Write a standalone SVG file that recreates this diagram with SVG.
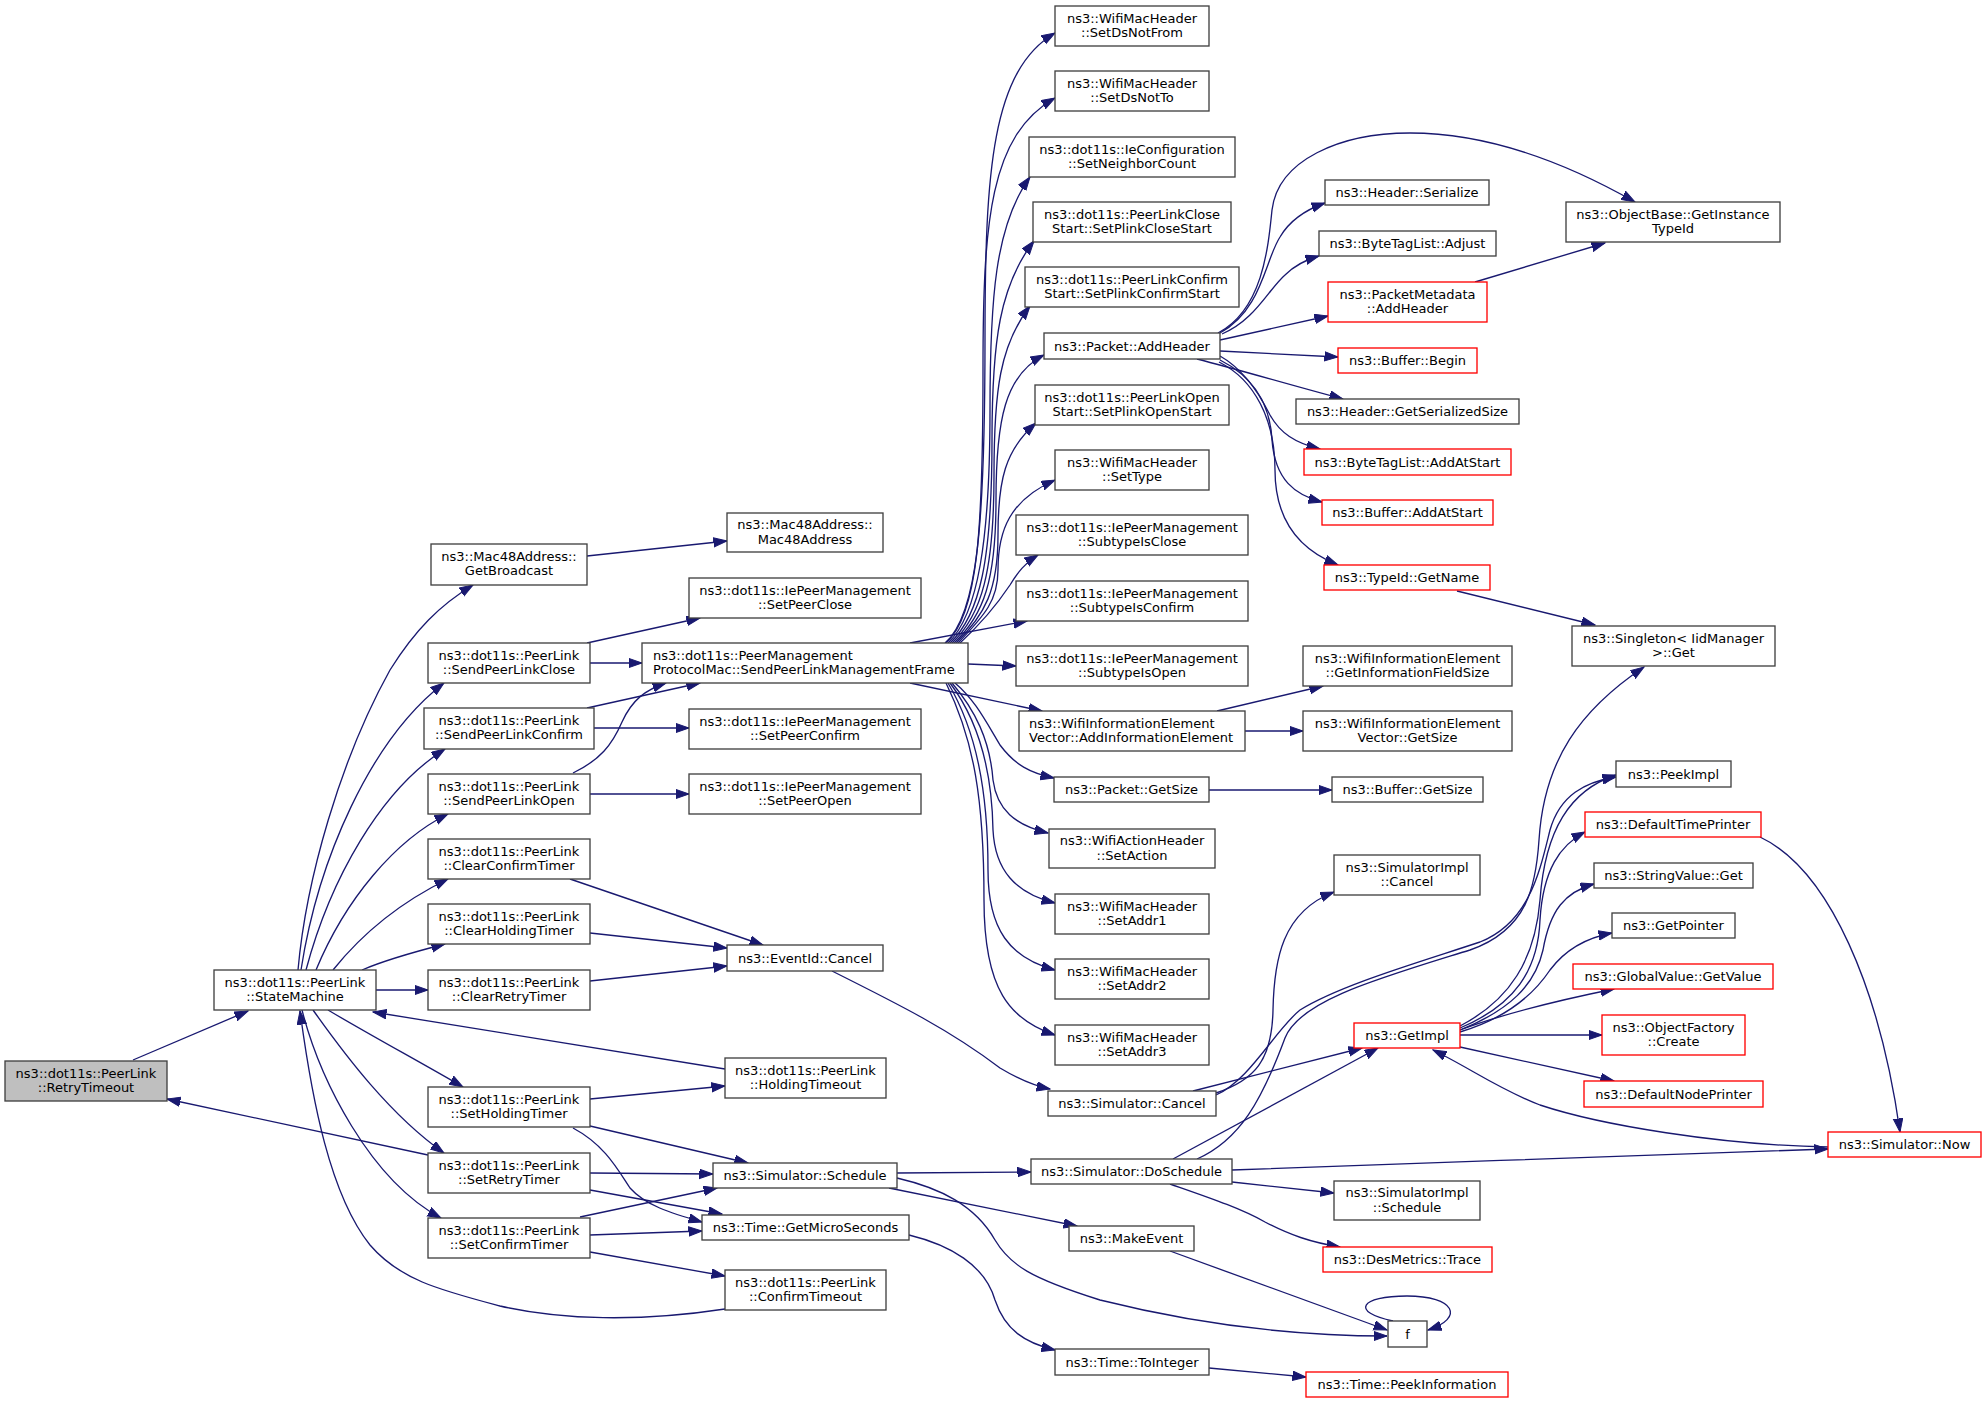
<svg xmlns="http://www.w3.org/2000/svg" width="1987" height="1403" viewBox="0 0 1987 1403">
<style>
.n rect{fill:#ffffff;stroke:#404040;stroke-width:1.33}
.r rect{stroke:#ff0000}
.g rect{fill:#bfbfbf}
text{font-family:"DejaVu Sans","Liberation Sans",sans-serif;font-size:13px;fill:#000;text-anchor:middle}
text.l{text-anchor:start}
.e path{fill:none;stroke:#191970;stroke-width:1.33;marker-end:url(#a)}
</style>
<defs>
<marker id="a" markerUnits="userSpaceOnUse" markerWidth="15" markerHeight="11" refX="13.5" refY="5" orient="auto" viewBox="0 0 15 11">
<path d="M0,0.3 L13.5,5 L0,9.7 z" fill="#191970" stroke="#191970" stroke-width="1"/>
</marker>
</defs>
<rect width="1987" height="1403" fill="#ffffff"/>
<g id="edges" class="e">
<path d="M133,1060 L248,1011"/>
<path d="M298,970 C306,880 340,760 390,670 C415,630 440,605 473,585"/>
<path d="M301,970 C318,860 370,740 444,683"/>
<path d="M306,970 C330,880 380,790 445,749"/>
<path d="M316,970 C345,900 395,840 448,814"/>
<path d="M333,970 C365,930 405,900 448,879"/>
<path d="M362,970 C385,960 410,953 445,944"/>
<path d="M376,990 L428,990"/>
<path d="M328,1010 C370,1035 420,1062 463,1087"/>
<path d="M313,1010 C345,1055 390,1115 444,1153"/>
<path d="M302,1010 C320,1080 370,1180 441,1218"/>
<path d="M725,1069 L373,1012"/>
<path d="M725,1309 C640,1322 560,1320 500,1306 C440,1290 400,1280 370,1245 C330,1195 312,1100 300,1011"/>
<path d="M428,1155 L167,1099"/>
<path d="M587,556 L727,541"/>
<path d="M587,643 L700,618"/>
<path d="M590,663 L642,663"/>
<path d="M587,708 L700,683"/>
<path d="M594,728 L689,728"/>
<path d="M573,773 C600,760 612,745 622,722 C632,700 645,690 666,683"/>
<path d="M590,794 L689,794"/>
<path d="M570,879 L763,945"/>
<path d="M590,933 L727,948"/>
<path d="M590,981 L727,966"/>
<path d="M590,1099 L725,1086"/>
<path d="M590,1126 L748,1163"/>
<path d="M573,1128 C605,1145 618,1170 630,1188 C645,1205 670,1213 702,1222"/>
<path d="M590,1173 L713,1174"/>
<path d="M590,1190 L722,1214"/>
<path d="M580,1217 L717,1188"/>
<path d="M590,1235 L702,1231"/>
<path d="M590,1252 L725,1276"/>
<path d="M945,643 C978,615 985,520 985,338 C985,170 992,70 1055,33"/>
<path d="M946,643 C978,615 983,530 983,370 C983,220 990,135 1055,98"/>
<path d="M948,643 C978,615 990,540 990,410 C990,300 995,225 1030,177"/>
<path d="M950,643 C980,615 992,560 992,440 C992,340 1000,285 1034,241"/>
<path d="M952,643 C982,615 994,570 994,475 C994,390 1000,345 1030,306"/>
<path d="M954,643 C984,615 996,580 996,500 C996,420 1005,375 1044,355"/>
<path d="M956,643 C985,615 998,590 998,535 C998,480 1005,450 1036,423"/>
<path d="M958,643 C985,615 998,600 998,570 C998,530 1010,500 1055,480"/>
<path d="M960,643 C985,620 1000,600 1010,585 C1018,572 1025,563 1038,555"/>
<path d="M910,643 L1027,621"/>
<path d="M968,664 L1016,666"/>
<path d="M910,683 L1042,711"/>
<path d="M955,683 C975,700 985,720 1000,745 C1015,765 1030,773 1054,778"/>
<path d="M952,683 C975,710 990,740 993,780 C997,810 1015,825 1048,833"/>
<path d="M950,683 C978,720 992,770 993,830 C995,870 1015,893 1055,903"/>
<path d="M948,683 C976,730 988,790 988,870 C988,930 1010,958 1055,970"/>
<path d="M946,683 C974,740 984,800 984,900 C984,990 1010,1020 1055,1035"/>
<path d="M832,971 C900,1005 950,1030 1000,1068 C1020,1080 1035,1086 1050,1089"/>
<path d="M897,1173 L1031,1172"/>
<path d="M889,1188 L1077,1226"/>
<path d="M897,1178 C940,1188 975,1205 995,1240 C1010,1265 1030,1278 1100,1300 C1200,1325 1300,1336 1387,1336"/>
<path d="M909,1235 C950,1245 985,1265 995,1300 C1005,1330 1025,1343 1055,1350"/>
<path d="M1209,1368 L1306,1377"/>
<path d="M1170,1251 L1387,1330"/>
<path d="M1393,1321 C1350,1312 1360,1296 1407,1296 C1455,1296 1465,1318 1428,1330"/>
<path d="M1218,333 C1262,310 1268,250 1272,210 C1278,160 1340,133 1410,133 C1490,133 1570,165 1635,202"/>
<path d="M1220,333 C1262,310 1265,260 1280,237 C1290,220 1305,210 1325,203"/>
<path d="M1222,334 C1255,320 1268,290 1285,275 C1295,265 1305,260 1319,256"/>
<path d="M1220,340 L1328,316"/>
<path d="M1220,351 L1338,357"/>
<path d="M1197,359 C1240,370 1290,385 1343,399"/>
<path d="M1220,356 C1245,370 1260,395 1270,415 C1280,433 1295,443 1320,449"/>
<path d="M1220,360 C1250,375 1270,400 1272,440 C1275,480 1295,495 1322,502"/>
<path d="M1219,362 C1255,380 1275,420 1275,470 C1275,520 1300,550 1338,565"/>
<path d="M1475,282 L1605,243"/>
<path d="M1457,591 L1595,625"/>
<path d="M1217,711 L1323,686"/>
<path d="M1245,731 L1303,731"/>
<path d="M1209,790 L1332,790"/>
<path d="M1216,1093 C1255,1080 1272,1060 1273,1010 C1274,960 1282,912 1334,892"/>
<path d="M1193,1091 L1362,1048"/>
<path d="M1216,1095 C1250,1080 1275,1030 1300,1010 C1340,985 1420,962 1480,942 C1530,922 1540,870 1550,830 C1560,795 1585,782 1616,777"/>
<path d="M1173,1159 L1378,1048"/>
<path d="M1197,1159 C1240,1140 1262,1100 1285,1038 C1300,1000 1380,978 1470,950 C1528,930 1536,885 1539,840 C1544,760 1580,710 1644,667"/>
<path d="M1232,1182 L1334,1193"/>
<path d="M1170,1184 C1210,1198 1240,1208 1265,1222 C1290,1235 1310,1242 1340,1247"/>
<path d="M1232,1170 C1400,1165 1700,1152 1828,1149"/>
<path d="M1828,1147 C1720,1145 1600,1125 1540,1105 C1500,1090 1470,1068 1433,1050"/>
<path d="M1760,837 C1830,870 1880,990 1900,1132"/>
<path d="M1460,1026 C1510,1000 1535,960 1540,900 C1545,830 1570,790 1616,775"/>
<path d="M1460,1028 C1515,1005 1538,970 1540,920 C1543,870 1560,845 1585,832"/>
<path d="M1460,1030 C1510,1010 1535,985 1543,950 C1550,910 1565,892 1594,884"/>
<path d="M1460,1032 C1500,1020 1530,1000 1550,970 C1565,950 1585,938 1612,933"/>
<path d="M1460,1030 C1500,1015 1560,1000 1614,989"/>
<path d="M1460,1035 L1602,1035"/>
<path d="M1460,1047 L1614,1081"/>
</g>
<g id="n1" class="n g"><rect x="5" y="1061" width="162" height="40"/><text x="86" y="1077.5">ns3::dot11s::PeerLink</text><text x="86" y="1092">::RetryTimeout</text></g>
<g id="n2" class="n"><rect x="214" y="970" width="162" height="40"/><text x="295" y="986.5">ns3::dot11s::PeerLink</text><text x="295" y="1001">::StateMachine</text></g>
<g id="n3" class="n"><rect x="431" y="544" width="156" height="41"/><text x="509" y="560.5">ns3::Mac48Address::</text><text x="509" y="575">GetBroadcast</text></g>
<g id="n4" class="n"><rect x="428" y="643" width="162" height="40"/><text x="509" y="659.5">ns3::dot11s::PeerLink</text><text x="509" y="674">::SendPeerLinkClose</text></g>
<g id="n5" class="n"><rect x="424" y="708" width="170" height="41"/><text x="509" y="724.5">ns3::dot11s::PeerLink</text><text x="509" y="739">::SendPeerLinkConfirm</text></g>
<g id="n6" class="n"><rect x="428" y="774" width="162" height="40"/><text x="509" y="790.5">ns3::dot11s::PeerLink</text><text x="509" y="805">::SendPeerLinkOpen</text></g>
<g id="n7" class="n"><rect x="428" y="839" width="162" height="40"/><text x="509" y="855.5">ns3::dot11s::PeerLink</text><text x="509" y="870">::ClearConfirmTimer</text></g>
<g id="n8" class="n"><rect x="428" y="904" width="162" height="40"/><text x="509" y="920.5">ns3::dot11s::PeerLink</text><text x="509" y="935">::ClearHoldingTimer</text></g>
<g id="n9" class="n"><rect x="428" y="970" width="162" height="40"/><text x="509" y="986.5">ns3::dot11s::PeerLink</text><text x="509" y="1001">::ClearRetryTimer</text></g>
<g id="n10" class="n"><rect x="428" y="1087" width="162" height="40"/><text x="509" y="1103.5">ns3::dot11s::PeerLink</text><text x="509" y="1118">::SetHoldingTimer</text></g>
<g id="n11" class="n"><rect x="428" y="1153" width="162" height="40"/><text x="509" y="1169.5">ns3::dot11s::PeerLink</text><text x="509" y="1184">::SetRetryTimer</text></g>
<g id="n12" class="n"><rect x="428" y="1218" width="162" height="40"/><text x="509" y="1234.5">ns3::dot11s::PeerLink</text><text x="509" y="1249">::SetConfirmTimer</text></g>
<g id="n13" class="n"><rect x="727" y="513" width="156" height="39"/><text x="805" y="529">ns3::Mac48Address::</text><text x="805" y="543.5">Mac48Address</text></g>
<g id="n14" class="n"><rect x="689" y="578" width="232" height="40"/><text x="805" y="594.5">ns3::dot11s::IePeerManagement</text><text x="805" y="609">::SetPeerClose</text></g>
<g id="n15" class="n"><rect x="642" y="643" width="326" height="40"/><text class="l" x="653" y="659.5">ns3::dot11s::PeerManagement</text><text class="l" x="653" y="674">ProtocolMac::SendPeerLinkManagementFrame</text></g>
<g id="n16" class="n"><rect x="689" y="709" width="232" height="40"/><text x="805" y="725.5">ns3::dot11s::IePeerManagement</text><text x="805" y="740">::SetPeerConfirm</text></g>
<g id="n17" class="n"><rect x="689" y="774" width="232" height="40"/><text x="805" y="790.5">ns3::dot11s::IePeerManagement</text><text x="805" y="805">::SetPeerOpen</text></g>
<g id="n18" class="n"><rect x="727" y="945" width="156" height="26"/><text x="805" y="962.5">ns3::EventId::Cancel</text></g>
<g id="n19" class="n"><rect x="725" y="1058" width="161" height="40"/><text x="805.5" y="1074.5">ns3::dot11s::PeerLink</text><text x="805.5" y="1089">::HoldingTimeout</text></g>
<g id="n20" class="n"><rect x="713" y="1163" width="184" height="25"/><text x="805" y="1180">ns3::Simulator::Schedule</text></g>
<g id="n21" class="n"><rect x="702" y="1215" width="207" height="25"/><text x="805.5" y="1232">ns3::Time::GetMicroSeconds</text></g>
<g id="n22" class="n"><rect x="725" y="1270" width="161" height="40"/><text x="805.5" y="1286.5">ns3::dot11s::PeerLink</text><text x="805.5" y="1301">::ConfirmTimeout</text></g>
<g id="n23" class="n"><rect x="1055" y="6" width="154" height="40"/><text x="1132" y="22.5">ns3::WifiMacHeader</text><text x="1132" y="37">::SetDsNotFrom</text></g>
<g id="n24" class="n"><rect x="1055" y="71" width="154" height="40"/><text x="1132" y="87.5">ns3::WifiMacHeader</text><text x="1132" y="102">::SetDsNotTo</text></g>
<g id="n25" class="n"><rect x="1029" y="137" width="206" height="40"/><text x="1132" y="153.5">ns3::dot11s::IeConfiguration</text><text x="1132" y="168">::SetNeighborCount</text></g>
<g id="n26" class="n"><rect x="1033" y="202" width="198" height="40"/><text x="1132" y="218.5">ns3::dot11s::PeerLinkClose</text><text x="1132" y="233">Start::SetPlinkCloseStart</text></g>
<g id="n27" class="n"><rect x="1025" y="267" width="214" height="40"/><text x="1132" y="283.5">ns3::dot11s::PeerLinkConfirm</text><text x="1132" y="298">Start::SetPlinkConfirmStart</text></g>
<g id="n28" class="n"><rect x="1044" y="333" width="176" height="26"/><text x="1132" y="350.5">ns3::Packet::AddHeader</text></g>
<g id="n29" class="n"><rect x="1035" y="385" width="194" height="40"/><text x="1132" y="401.5">ns3::dot11s::PeerLinkOpen</text><text x="1132" y="416">Start::SetPlinkOpenStart</text></g>
<g id="n30" class="n"><rect x="1055" y="450" width="154" height="40"/><text x="1132" y="466.5">ns3::WifiMacHeader</text><text x="1132" y="481">::SetType</text></g>
<g id="n31" class="n"><rect x="1016" y="515" width="232" height="40"/><text x="1132" y="531.5">ns3::dot11s::IePeerManagement</text><text x="1132" y="546">::SubtypeIsClose</text></g>
<g id="n32" class="n"><rect x="1016" y="581" width="232" height="40"/><text x="1132" y="597.5">ns3::dot11s::IePeerManagement</text><text x="1132" y="612">::SubtypeIsConfirm</text></g>
<g id="n33" class="n"><rect x="1016" y="646" width="232" height="40"/><text x="1132" y="662.5">ns3::dot11s::IePeerManagement</text><text x="1132" y="677">::SubtypeIsOpen</text></g>
<g id="n34" class="n"><rect x="1019" y="711" width="226" height="40"/><text class="l" x="1029" y="727.5">ns3::WifiInformationElement</text><text class="l" x="1029" y="742">Vector::AddInformationElement</text></g>
<g id="n35" class="n"><rect x="1054" y="777" width="155" height="25"/><text x="1131.5" y="794">ns3::Packet::GetSize</text></g>
<g id="n36" class="n"><rect x="1049" y="829" width="166" height="39"/><text x="1132" y="845">ns3::WifiActionHeader</text><text x="1132" y="859.5">::SetAction</text></g>
<g id="n37" class="n"><rect x="1055" y="894" width="154" height="40"/><text x="1132" y="910.5">ns3::WifiMacHeader</text><text x="1132" y="925">::SetAddr1</text></g>
<g id="n38" class="n"><rect x="1055" y="959" width="154" height="40"/><text x="1132" y="975.5">ns3::WifiMacHeader</text><text x="1132" y="990">::SetAddr2</text></g>
<g id="n39" class="n"><rect x="1055" y="1025" width="154" height="40"/><text x="1132" y="1041.5">ns3::WifiMacHeader</text><text x="1132" y="1056">::SetAddr3</text></g>
<g id="n40" class="n"><rect x="1048" y="1091" width="168" height="25"/><text x="1132" y="1108">ns3::Simulator::Cancel</text></g>
<g id="n41" class="n"><rect x="1031" y="1159" width="201" height="25"/><text x="1131.5" y="1176">ns3::Simulator::DoSchedule</text></g>
<g id="n42" class="n"><rect x="1069" y="1226" width="125" height="25"/><text x="1131.5" y="1243">ns3::MakeEvent</text></g>
<g id="n43" class="n"><rect x="1055" y="1349" width="154" height="26"/><text x="1132" y="1366.5">ns3::Time::ToInteger</text></g>
<g id="n44" class="n"><rect x="1325" y="180" width="164" height="25"/><text x="1407" y="197">ns3::Header::Serialize</text></g>
<g id="n45" class="n"><rect x="1319" y="231" width="177" height="25"/><text x="1407.5" y="248">ns3::ByteTagList::Adjust</text></g>
<g id="n46" class="n r"><rect x="1328" y="282" width="159" height="40"/><text x="1407.5" y="298.5">ns3::PacketMetadata</text><text x="1407.5" y="313">::AddHeader</text></g>
<g id="n47" class="n r"><rect x="1338" y="348" width="139" height="25"/><text x="1407.5" y="365">ns3::Buffer::Begin</text></g>
<g id="n48" class="n"><rect x="1296" y="399" width="223" height="25"/><text x="1407.5" y="416">ns3::Header::GetSerializedSize</text></g>
<g id="n49" class="n r"><rect x="1304" y="449" width="207" height="26"/><text x="1407.5" y="466.5">ns3::ByteTagList::AddAtStart</text></g>
<g id="n50" class="n r"><rect x="1322" y="500" width="171" height="25"/><text x="1407.5" y="517">ns3::Buffer::AddAtStart</text></g>
<g id="n51" class="n r"><rect x="1324" y="565" width="166" height="25"/><text x="1407" y="582">ns3::TypeId::GetName</text></g>
<g id="n52" class="n"><rect x="1303" y="646" width="209" height="40"/><text x="1407.5" y="662.5">ns3::WifiInformationElement</text><text x="1407.5" y="677">::GetInformationFieldSize</text></g>
<g id="n53" class="n"><rect x="1303" y="711" width="209" height="40"/><text x="1407.5" y="727.5">ns3::WifiInformationElement</text><text x="1407.5" y="742">Vector::GetSize</text></g>
<g id="n54" class="n"><rect x="1332" y="777" width="151" height="25"/><text x="1407.5" y="794">ns3::Buffer::GetSize</text></g>
<g id="n55" class="n"><rect x="1334" y="855" width="146" height="40"/><text x="1407" y="871.5">ns3::SimulatorImpl</text><text x="1407" y="886">::Cancel</text></g>
<g id="n56" class="n r"><rect x="1354" y="1023" width="106" height="25"/><text x="1407" y="1040">ns3::GetImpl</text></g>
<g id="n57" class="n"><rect x="1334" y="1181" width="146" height="39"/><text x="1407" y="1197">ns3::SimulatorImpl</text><text x="1407" y="1211.5">::Schedule</text></g>
<g id="n58" class="n r"><rect x="1323" y="1247" width="169" height="25"/><text x="1407.5" y="1264">ns3::DesMetrics::Trace</text></g>
<g id="n59" class="n"><rect x="1388" y="1321" width="39" height="26"/><text x="1407.5" y="1338.5">f</text></g>
<g id="n60" class="n r"><rect x="1306" y="1372" width="202" height="25"/><text x="1407" y="1389">ns3::Time::PeekInformation</text></g>
<g id="n61" class="n"><rect x="1566" y="202" width="214" height="40"/><text x="1673" y="218.5">ns3::ObjectBase::GetInstance</text><text x="1673" y="233">TypeId</text></g>
<g id="n62" class="n"><rect x="1572" y="626" width="203" height="40"/><text x="1673.5" y="642.5">ns3::Singleton&lt; IidManager</text><text x="1673.5" y="657">&gt;::Get</text></g>
<g id="n63" class="n"><rect x="1616" y="761" width="115" height="26"/><text x="1673.5" y="778.5">ns3::PeekImpl</text></g>
<g id="n64" class="n r"><rect x="1585" y="812" width="176" height="25"/><text x="1673" y="829">ns3::DefaultTimePrinter</text></g>
<g id="n65" class="n"><rect x="1594" y="863" width="159" height="25"/><text x="1673.5" y="880">ns3::StringValue::Get</text></g>
<g id="n66" class="n"><rect x="1612" y="913" width="123" height="25"/><text x="1673.5" y="930">ns3::GetPointer</text></g>
<g id="n67" class="n r"><rect x="1573" y="964" width="200" height="25"/><text x="1673" y="981">ns3::GlobalValue::GetValue</text></g>
<g id="n68" class="n r"><rect x="1602" y="1015" width="143" height="40"/><text x="1673.5" y="1031.5">ns3::ObjectFactory</text><text x="1673.5" y="1046">::Create</text></g>
<g id="n69" class="n r"><rect x="1584" y="1081" width="179" height="26"/><text x="1673.5" y="1098.5">ns3::DefaultNodePrinter</text></g>
<g id="n70" class="n r"><rect x="1828" y="1132" width="153" height="25"/><text x="1904.5" y="1149">ns3::Simulator::Now</text></g>
</svg>
